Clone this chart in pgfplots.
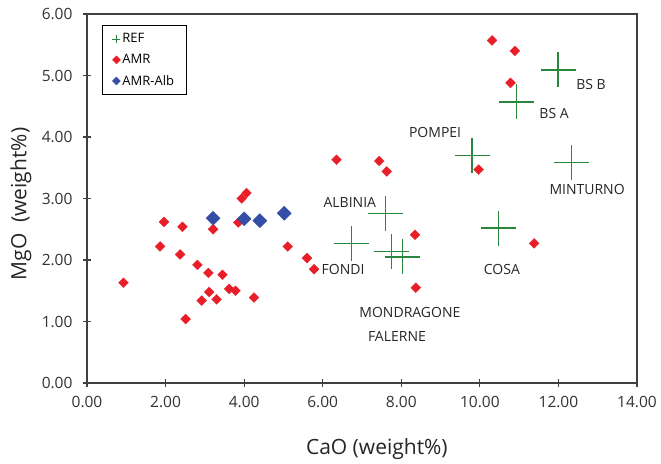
\documentclass[border=0pt]{standalone}
\usepackage{fontspec}
\setmainfont{Open Sans}
\usepackage{pgfplots}
\pgfplotsset{compat=1.18}
\definecolor{refgreen}{RGB}{40,135,60}
\definecolor{amrred}{RGB}{232,30,40}
\definecolor{albblue}{RGB}{52,78,165}

\begin{document}
\begin{tikzpicture}
\begin{axis}[
    scale only axis,
    width=550pt, height=369pt,
    xmin=0, xmax=14, ymin=0, ymax=6,
    xtick={0,2,...,14}, ytick={0,1,...,6},
    xtick pos=bottom, ytick pos=left,
    tick align=center, major tick length=8pt,
    axis line style={line width=1.2pt, black!75},
    tick style={line width=1.1pt, black!75},
    tick label style={font=\fontsize{15.5}{18}\selectfont, text=black!80},
    xticklabel style={yshift=-6pt},
    yticklabel style={xshift=-7pt},
    xlabel={CaO (weight\%)},
    ylabel={MgO\ \ (weight\%)},
    x label style={at={(axis description cs:0.527,-0.18)}, anchor=center, font=\fontsize{21}{24}\selectfont, text=black!85},
    y label style={at={(axis description cs:-0.12,0.485)}, anchor=center, font=\fontsize{21}{24}\selectfont, text=black!85},
    legend style={at={(axis description cs:0.027,0.97)}, anchor=north west,
        draw=black, line width=1.2pt, font=\fontsize{13}{15}\selectfont,
        row sep=6pt, inner xsep=10pt, inner ysep=6pt},
    legend cell align=left,
    legend image code/.code={\draw[#1] plot coordinates {(0.2cm,0cm)};},
    /pgf/number format/fixed,
    /pgf/number format/fixed zerofill,
    /pgf/number format/precision=2,
    /pgf/number format/assume math mode=true,
]
\addlegendimage{only marks, mark=+, mark size=4pt, mark options={draw=refgreen, line width=1.1pt}}
\addlegendentry{REF}
\addlegendimage{only marks, mark=square*, mark size=2.8pt, mark options={rotate=45, draw=amrred, fill=amrred, line width=0.4pt}}
\addlegendentry{AMR}
\addlegendimage{only marks, mark=square*, mark size=2.8pt, mark options={rotate=45, draw=albblue, fill=albblue, line width=0.4pt}}
\addlegendentry{AMR-Alb}

% AMR
\addplot[only marks, mark=square*, mark options={rotate=45, line width=0.3pt}, mark size=3.5pt, color=amrred, forget plot]
coordinates {
 (0.93,1.63) (1.96,2.62) (2.43,2.54) (1.86,2.22) (2.37,2.09)
 (2.81,1.92) (3.09,1.79) (3.45,1.76) (3.11,1.48) (2.92,1.34)
 (3.30,1.36) (3.62,1.53) (3.78,1.50) (4.25,1.39) (2.51,1.04)
 (3.21,2.50) (3.85,2.61) (3.94,3.00) (4.06,3.09) (5.11,2.22)
 (5.60,2.03) (5.78,1.85) (6.35,3.63) (7.44,3.61) (7.63,3.44)
 (10.31,5.57) (10.89,5.40) (10.78,4.88) (9.97,3.47)
 (8.35,2.41) (8.37,1.55) (11.38,2.27)
};
% AMR-Alb
\addplot[only marks, mark=square*, mark options={rotate=45, line width=0.3pt}, mark size=5pt, color=albblue, forget plot]
coordinates {
 (3.21,2.68) (4.00,2.67) (4.40,2.64) (5.02,2.76)
};
% REF
\addplot[only marks, mark=+, mark size=17.5pt, color=refgreen, line width=1.3pt, forget plot]
coordinates {
 (7.60,2.76) (6.73,2.27) (7.75,2.14) (8.03,2.05) (10.48,2.52)
 (9.80,3.70) (12.33,3.58) (10.93,4.57) (11.99,5.09)
};

\begin{scope}[every node/.style={font=\fontsize{14}{16}\selectfont, text=black!85, inner sep=0pt}]
\node at (axis cs:6.69,2.93) {ALBINIA};
\node at (axis cs:6.52,1.84) {FONDI};
\node at (axis cs:8.22,1.14) {MONDRAGONE};
\node at (axis cs:7.89,0.75) {FALERNE};
\node at (axis cs:10.56,1.84) {COSA};
\node at (axis cs:8.86,4.07) {POMPEI};
\node at (axis cs:12.73,3.15) {MINTURNO};
\node at (axis cs:11.89,4.39) {BS A};
\node at (axis cs:12.83,4.85) {BS B};
\end{scope}
\end{axis}
\path[use as bounding box] (-87pt,-78pt) rectangle (574pt,383pt);
\end{tikzpicture}
\end{document}
